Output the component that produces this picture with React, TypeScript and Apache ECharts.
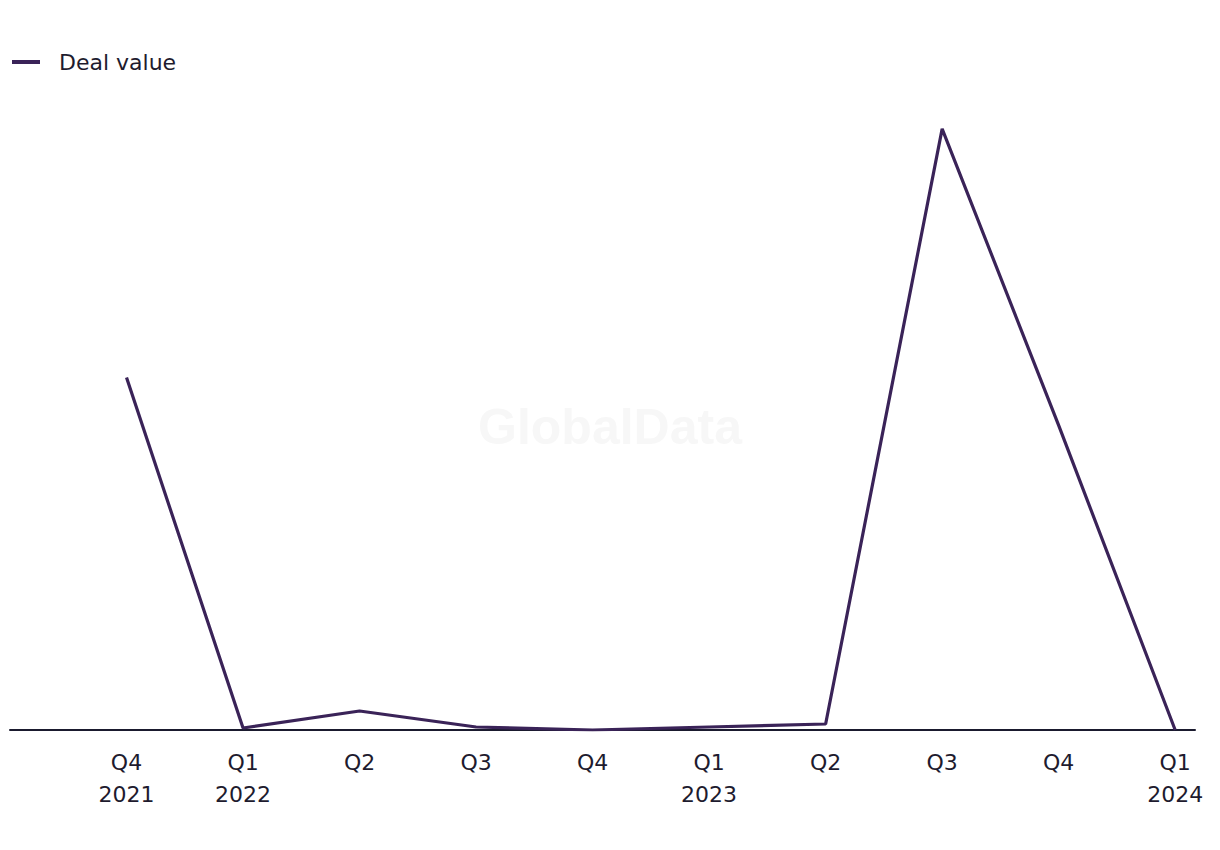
import React, { useEffect, useRef } from "react";
import * as echarts from "echarts";

const quarters = ["Q4", "Q1", "Q2", "Q3", "Q4", "Q1", "Q2", "Q3", "Q4", "Q1"];
const years = ["2021", "2022", "", "", "", "2023", "", "", "", "2024"];
const dealValue = [353, 2, 19, 3, 0, 3, 6, 602, 305, 0];
const seriesName = "Deal value";

export default function App() {
  const ref = useRef<HTMLDivElement>(null);
  useEffect(() => {
    if (!ref.current) return;
    const chart = echarts.init(ref.current, undefined, { renderer: "svg" });
    const font = "'DejaVu Sans', sans-serif";
    chart.setOption({
      animation: false,
      textStyle: { fontFamily: font },
      legend: {
        show: true,
        left: 4,
        top: 43,
        padding: 0,
        icon: "rect",
        itemWidth: 28,
        itemHeight: 4,
        itemGap: 10,
        textStyle: { fontSize: 22, color: "#1e1b2e", fontFamily: font, padding: [0, 0, 0, 14] },
        data: [seriesName],
      },
      graphic: [
        {
          type: "text",
          x: 602,
          y: 419,
          style: {
            text: "GlobalData",
            fontSize: 50,
            fontWeight: "bold",
            fontFamily: "'Liberation Sans', Arial, sans-serif",
            fill: "#f7f7f7",
            textAlign: "center",
            textVerticalAlign: "middle",
          },
          z: 0,
        },
      ],
      grid: { left: 2, right: 17, top: 23, bottom: 112, containLabel: false },
      xAxis: {
        type: "value",
        min: -1,
        max: 9.17,
        interval: 1,
        splitLine: { show: false },
        axisTick: { show: false },
        axisLine: { show: true, lineStyle: { color: "#1a1a2e", width: 2 } },
        axisLabel: {
          margin: 16,
          fontSize: 22,
          lineHeight: 32,
          color: "#1e1b2e",
          fontFamily: font,
          showMinLabel: false,
          formatter: (v: number) => {
            const i = Math.round(v);
            if (Math.abs(v - i) > 1e-6 || i < 0 || i >= quarters.length) return "";
            return years[i] ? quarters[i] + "\n" + years[i] : quarters[i];
          },
        },
      },
      yAxis: {
        type: "value",
        min: 0,
        max: 700,
        show: false,
        splitLine: { show: false },
      },
      series: [
        {
          name: seriesName,
          type: "line",
          data: dealValue.map((v, i) => [i, v]),
          symbol: "none",
          lineStyle: { color: "#3a2358", width: 3.2 },
          itemStyle: { color: "#3a2358" },
          z: 3,
        },
      ],
    });
    return () => chart.dispose();
  }, []);
  return <div ref={ref} style={{ width: 1204, height: 834 }} />;
}
